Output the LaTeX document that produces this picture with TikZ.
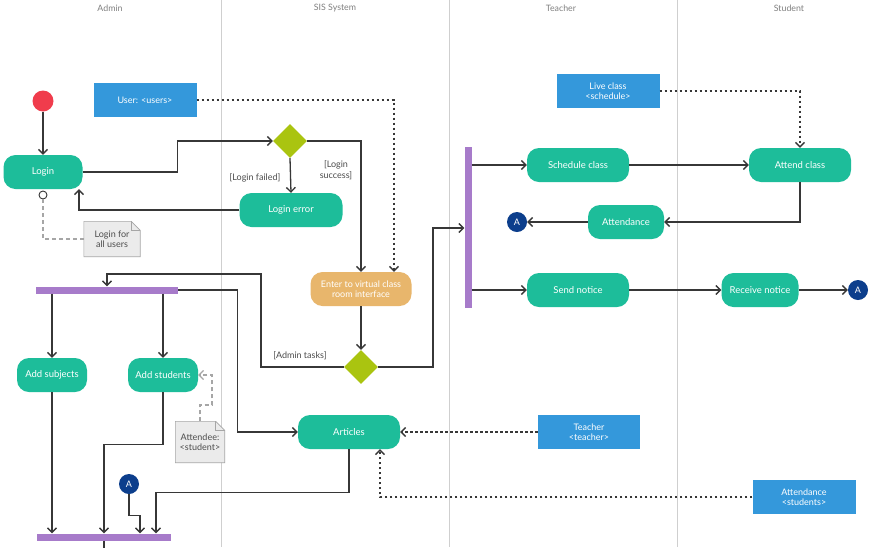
\documentclass[tikz,border=0pt]{standalone}
\usepackage{fontspec}
\setmainfont{Lato}
\usetikzlibrary{shapes.geometric,arrows.meta,positioning,backgrounds}
\definecolor{actgreen}{RGB}{29,189,154}
\definecolor{objblue}{RGB}{52,152,219}
\definecolor{decgreen}{RGB}{170,196,16}
\definecolor{barpurple}{RGB}{167,123,202}
\definecolor{enterorange}{RGB}{232,182,108}
\definecolor{startred}{RGB}{240,60,76}
\definecolor{connblue}{RGB}{12,62,140}
\definecolor{notegray}{RGB}{235,235,235}
\definecolor{lanegray}{RGB}{207,207,207}
\definecolor{linegray}{RGB}{55,55,55}
\tikzset{
  act/.style={fill=actgreen,text=white,rounded corners=12pt,minimum height=34pt,inner sep=2pt,font=\fontsize{9.5}{11}\selectfont,align=center},
  objbox/.style={fill=objblue,text=white,minimum height=34pt,inner sep=2pt,font=\fontsize{9}{10.5}\selectfont,align=center},
  decision/.style={diamond,fill=decgreen,minimum width=34pt,minimum height=34pt,inner sep=0pt},
  bar/.style={fill=barpurple,inner sep=0pt},
  startdot/.style={circle,fill=startred,minimum size=21pt,inner sep=0pt},
  pin/.style={circle,draw=linegray,fill=white,line width=0.9pt,minimum size=8pt,inner sep=0pt},
  conn/.style={circle,fill=connblue,text=white,minimum size=20pt,inner sep=0pt,font=\fontsize{9}{10}\selectfont},
  note/.style={minimum width=50pt,minimum height=36pt,inner sep=2pt,text=black!70,font=\fontsize{9}{10.5}\selectfont,align=center},
  notebox/.style={fill=notegray,draw=black!35,line width=0.6pt},
  guard/.style={text=black!70,font=\fontsize{9}{10.5}\selectfont,align=center},
  lanetitle/.style={text=black!50,font=\fontsize{8.8}{10}\selectfont},
  lane/.style={draw=lanegray,line width=0.8pt},
  flow/.style={draw=linegray,line width=1.3pt,-{Straight Barb[length=4.5pt,width=9pt]}},
  objflow/.style={flow,dash pattern=on 2.5pt off 2.5pt},
  noteflow/.style={draw=black!35,line width=1.2pt,dash pattern=on 4pt off 3pt}
}
\newcommand{\foldnote}[1]{%
  \begin{pgfonlayer}{background}
  \draw[notebox] (#1.south west) -- (#1.north west) -- ([xshift=-9pt]#1.north east)
    -- ([yshift=-9pt]#1.north east) -- (#1.south east) -- cycle;
  \draw[notebox,fill=none] ([xshift=-9pt]#1.north east) -- ([xshift=-9pt,yshift=-9pt]#1.north east) -- ([yshift=-9pt]#1.north east);
  \end{pgfonlayer}}

\begin{document}
\begin{tikzpicture}[x=1pt,y=-1pt]
  \useasboundingbox (0,0) rectangle (894,547);
  % swim lanes
  \begin{pgfonlayer}{background}
    \fill[white] (0,0) rectangle (894,547);
    \draw[lane] (221,0) -- (221,547);
    \draw[lane] (449,0) -- (449,547);
    \draw[lane] (677,0) -- (677,547);
  \end{pgfonlayer}
  \node[lanetitle] (ladmin) at (110,8) {Admin};
  \node[lanetitle] (lsis) at (335,8) {SIS System};
  \node[lanetitle] (lteacher) at (561,8) {Teacher};
  \node[lanetitle] (lstudent) at (789,8) {Student};
  % admin lane: login
  \node[startdot] (start) at (43,101) {};
  \node[act,minimum width=79pt] (login) at (43,172) {Login};
  \node[pin] (pin1) at (43,195) {};
  \node[note,minimum width=56pt,minimum height=35pt] (n1) at (112,239) {Login for\\all users};
  \foldnote{n1}
  \node[objbox,minimum width=103pt] (users) at (145,100) {User: <users>};
  % sis lane
  \node[decision] (d1) at (290,141) {};
  \node[act,minimum width=103pt] (err) at (291,210) {Login error};
  \node[act,fill=enterorange,minimum width=101pt,font=\fontsize{9}{10.5}\selectfont] (enter) at (361,289) {Enter to virtual class\\room interface};
  \node[decision] (d2) at (361,367) {};
  \node[act,minimum width=102pt] (art) at (349,432) {Articles};
  % admin lane: tasks
  \node[bar,minimum width=142pt,minimum height=7pt] (fork1) at (107,290) {};
  \node[act,minimum width=70pt] (subj) at (52,375) {Add subjects};
  \node[act,minimum width=70pt] (stud) at (163,375) {Add students};
  \node[note,minimum width=49pt,minimum height=41pt] (n2) at (200,442) {Attendee:\\<student>};
  \foldnote{n2}
  \node[conn] (a1) at (129,484) {A};
  \node[bar,minimum width=134pt,minimum height=7pt] (join1) at (104,537) {};
  % teacher and student lanes
  \node[bar,minimum width=7pt,minimum height=161pt] (vbar) at (468,227) {};
  \node[act,minimum width=102pt] (sched) at (578,165) {Schedule class};
  \node[act,minimum width=102pt] (attend) at (800,165) {Attend class};
  \node[objbox,minimum width=103pt] (live) at (608,91) {Live class\\<schedule>};
  \node[act,minimum width=76pt] (attd) at (626,222) {Attendance};
  \node[conn] (a2) at (517,222) {A};
  \node[act,minimum width=102pt] (send) at (578,290) {Send notice};
  \node[act,minimum width=77pt] (recv) at (760,290) {Receive notice};
  \node[conn] (a3) at (858,290) {A};
  \node[objbox,minimum width=102pt] (tobj) at (589,432) {Teacher\\<teacher>};
  \node[objbox,minimum width=103pt] (aobj) at (804,497) {Attendance\\<students>};
  % guards
  \node[guard] (g1) at (255,178) {[Login failed]};
  \node[guard] (g2) at (336,170) {[Login\\success]};
  \node[guard] (g3) at (300,356) {[Admin tasks]};
  % login flow
  \draw[flow] (start) -- (login);
  \draw[noteflow] (pin1.south) |- (n1.west);
  \draw[flow] (login.east) -- ++(95,0) |- (d1.west);
  \draw[flow] (d1.south) -- (err.north);
  \draw[flow] (err.west) -| ([xshift=36pt]login.south);
  \draw[flow] (d1.east) -| (enter.north);
  \draw[objflow] (users.east) -| ([xshift=33pt]enter.north);
  \draw[flow] (enter.south) -- (d2.north);
  % admin tasks
  \coordinate (t1) at (261,274);
  \draw[flow] (d2.west) -| (t1) -| (fork1.north);
  \draw[flow] (fork1.south -| subj.north) -- (subj.north);
  \draw[flow] (fork1.south -| stud.north) -- (stud.north);
  \draw[flow] (fork1.east) -- ++(59,0) |- (art.west);
  \coordinate (t3) at (212,405);
  \draw[noteflow,-{Straight Barb[length=4.5pt,width=9pt]}] (n2.north) |- (t3) |- (stud.east);
  \draw[objflow] (tobj.west) -- (art.east);
  \draw[objflow] (aobj.west) -| ([xshift=31pt]art.south);
  \draw[flow] (subj.south) -- (subj.south |- join1.north);
  \draw[flow] (stud.south) -- ++(0,52) -| (join1.north);
  \draw[flow] (art.south) -- ++(0,43) -| ([xshift=52pt]join1.north);
  \draw[flow] (a1.south) -- ++(0,21) -| ([xshift=36pt]join1.north);
  \draw[draw=linegray,line width=1.3pt] (join1.south) -- ++(0,8);
  % teacher tasks
  \coordinate (t2) at (433,228);
  \draw[flow] (d2.east) -| (t2) -- (t2 -| vbar.west);
  \draw[flow] (vbar.east |- sched) -- (sched.west);
  \draw[flow] (sched) -- (attend);
  \draw[objflow] (live.east) -| (attend.north);
  \draw[flow] (attend.south) |- (attd.east);
  \draw[flow] (attd.west) -- (a2.east);
  \draw[flow] (vbar.east |- send) -- (send.west);
  \draw[flow] (send) -- (recv);
  \draw[flow] (recv) -- (a3);
\end{tikzpicture}
\end{document}
